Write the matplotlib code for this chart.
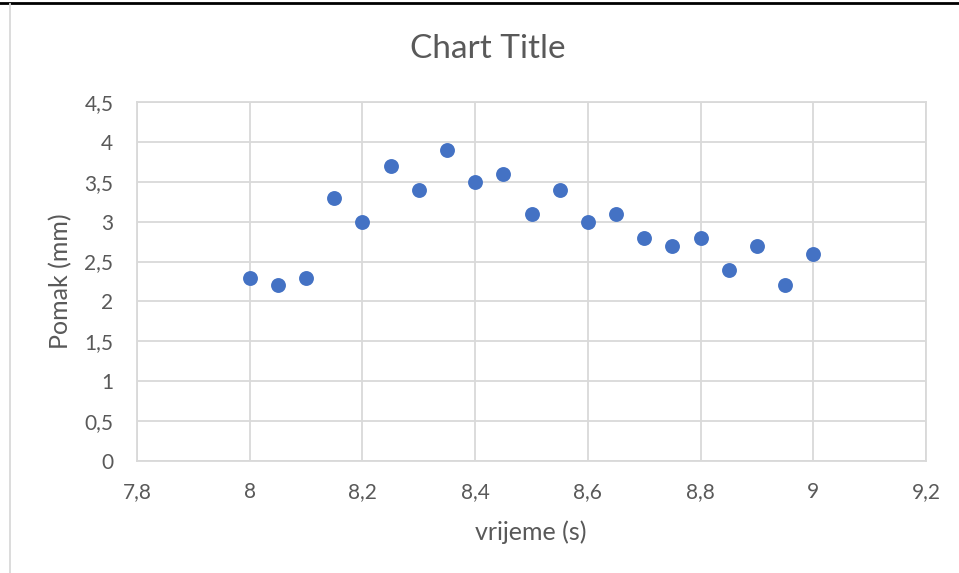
import matplotlib
matplotlib.use("Agg")
import matplotlib.pyplot as plt
from matplotlib.ticker import FuncFormatter, MultipleLocator
from matplotlib.lines import Line2D

# podaci
vrijeme = [8.0, 8.05, 8.1, 8.15, 8.2, 8.25, 8.3, 8.35, 8.4, 8.45, 8.5,
           8.55, 8.6, 8.65, 8.7, 8.75, 8.8, 8.85, 8.9, 8.95, 9.0]
pomak = [2.3, 2.2, 2.3, 3.3, 3.0, 3.7, 3.4, 3.9, 3.5, 3.6, 3.1,
         3.4, 3.0, 3.1, 2.8, 2.7, 2.8, 2.4, 2.7, 2.2, 2.6]

plt.rcParams['font.family'] = ['Lato', 'DejaVu Sans']
tekst = '#595959'
mreza = '#d9d9d9'

W, H = 959, 573
fig = plt.figure(figsize=(W / 100, H / 100), dpi=100)
ax = fig.add_axes([137 / W, 1 - 461 / H, (926 - 137) / W, (461 - 102) / H])

ax.scatter(vrijeme, pomak, s=115, color='#4472C4', zorder=3, linewidths=0)

ax.set_xlim(7.8, 9.2)
ax.set_ylim(0, 4.5)
ax.xaxis.set_major_locator(MultipleLocator(0.2))
ax.yaxis.set_major_locator(MultipleLocator(0.5))
fmt = FuncFormatter(lambda v, p: ('%g' % round(v, 2)).replace('.', ','))
ax.xaxis.set_major_formatter(fmt)
ax.yaxis.set_major_formatter(fmt)

ax.grid(True, color=mreza, linewidth=1.3)
ax.set_axisbelow(True)
for s in ax.spines.values():
    s.set_color(mreza)
    s.set_linewidth(1.3)
ax.tick_params(length=0, labelsize=15, colors=tekst)
ax.tick_params(axis='x', pad=15)
ax.tick_params(axis='y', pad=17)

# naslovi osi i grafa
fig.text(531 / W, 1 - 532 / H, 'vrijeme (s)', fontsize=18, color=tekst,
         ha='center', va='center')
fig.text(61 / W, 1 - 281 / H, 'Pomak (mm)', fontsize=18, color=tekst,
         ha='center', va='center', rotation=90)
fig.text(488 / W, 1 - 49 / H, 'Chart Title', fontsize=24,
         color=tekst, ha='center', va='center')

# okvir
fig.add_artist(Line2D([0, 1], [1 - 2.5 / H, 1 - 2.5 / H], color='black', linewidth=2))
fig.add_artist(Line2D([10 / W, 10 / W], [0, 1 - 4 / H], color=mreza, linewidth=1.3))

fig.savefig('out.png', dpi=100)
